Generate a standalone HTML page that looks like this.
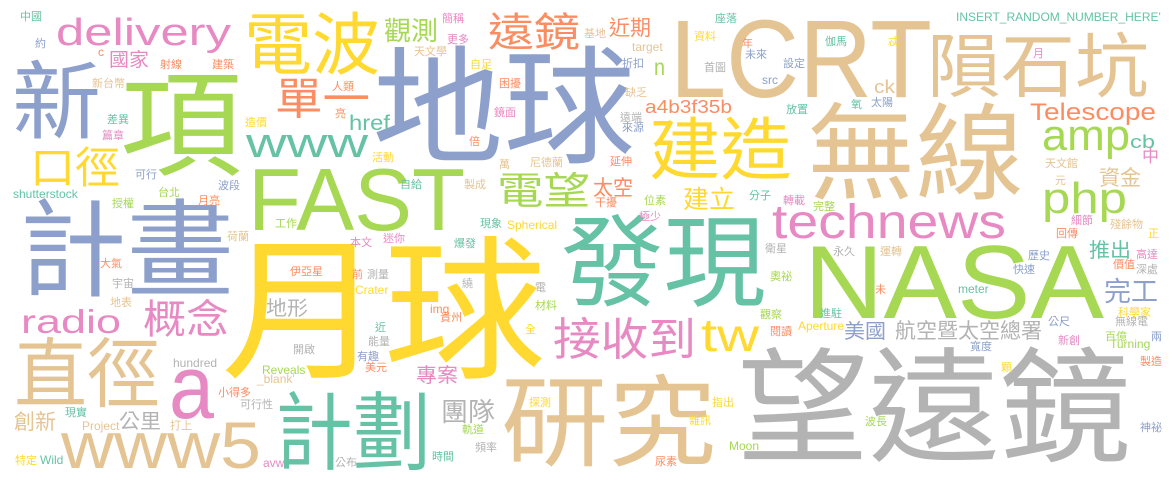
<!DOCTYPE html>
<html><head><meta charset="utf-8">
<style>
html,body{margin:0;padding:0;background:#fff;}
svg{display:block;}
text{font-family:"Liberation Sans","Noto Sans CJK TC",sans-serif;}
.c{font-family:"Noto Sans CJK TC","Noto Sans CJK SC",sans-serif;}
</style></head>
<body>
<svg id="cloud" width="1175" height="482" viewBox="0 0 1175 482" xmlns="http://www.w3.org/2000/svg" lengthAdjust="spacingAndGlyphs">
<rect width="1175" height="482" fill="#fff"/>
<g id="big"></g>
<g id="small"></g>
</svg>
<script>
var COL={t:"#66c2a5",o:"#fc8d62",b:"#8da0cb",p:"#e78ac3",g:"#a6d854",y:"#ffd92f",n:"#e5c494",r:"#b3b3b3"};
// word, x, baseline, font-size, textLength, color, cjk
var bigWords=[
["新",12,132,85,89,"b",1],
["項",120,166,115,122,"g",1],
["電波",244,69,68,136,"y",1],
["國家",109,66,19,40,"p",1],
["單一",275,114,44,95,"o",1],
["口徑",30,183,43,90,"y",1],
["計畫",19,288,106,215,"b",1],
["地球",372,153,128,263,"b",1],
["遠鏡",488,46,40,92,"o",1],
["觀測",384,40,26,54,"g",1],
["近期",609,35,21,42,"o",1],
["建造",649,174,68,143,"y",1],
["電望",497,204,38,93,"g",1],
["太空",593,195,21,40,"o",1],
["建立",683,208,25,52,"y",1],
["發現",561,298,100,205,"t",1],
["隕石坑",927,91,70,222,"n",1],
["無線",807,191,105,217,"n",1],
["資金",1099,185,21,42,"n",1],
["中",1142,162,17,17,"p",1],
["概念",143,333,40,86,"p",1],
["直徑",14,401,76,146,"n",1],
["地形",266,315,20,42,"r",1],
["創新",14,429,21,42,"n",1],
["公里",119,428,20,42,"r",1],
["計劃",275,463,85,156,"t",1],
["月球",221,366,155,325,"y",1],
["接收到",553,355,45,143,"p",1],
["研究",501,458,100,215,"n",1],
["專案",416,382,20,42,"p",1],
["團隊",441,421,26,54,"r",1],
["望遠鏡",737,452,125,394,"r",1],
["推出",1089,257,20,42,"t",1],
["完工",1104,301,27,54,"b",1],
["美國",844,338,20,42,"b",1],
["航空暨太空總署",895,338,21,147,"r",1],
["FAST",248,230,88,217,"g",0],
["LCRT",670,97,110,262,"n",0],
["delivery",56,45,38,175,"p",0],
["www",246,157,42,122,"t",0],
["href",349,130,21,41,"t",0],
["a4b3f35b",645,113,18,87,"o",0],
["n",654,75,23,11,"g",0],
["ck",874,93,18,21,"n",0],
["technews",772,238,48,234,"p",0],
["Telescope",1030,120,24,126,"o",0],
["amp",1042,150,44,88,"g",0],
["cb",1130,148,18,25,"t",0],
["php",1042,213,44,85,"g",0],
["radio",21,333,33,100,"p",0],
["a",169,418,90,45,"p",0],
["www5",61,468,66,200,"n",0],
["tw",701,351,46,58,"y",0],
["NASA",804,318,104,300,"g",0]
];
// small words: word, x, baseline, color
var smallWords=[
["中國",20,20,"t"],["約",35,47,"b"],["c",98,56,"o"],["射線",160,68,"o"],["建築",212,68,"o"],["新台幣",92,87,"n"],
["人類",332,90,"o"],["差異",107,123,"t"],["亮",335,117,"o"],["造價",245,126,"y"],["篇章",102,139,"p"],["活動",372,161,"y"],
["可行",135,178,"b"],["波段",218,189,"b"],["台北",158,196,"g"],["月亮",198,204,"o"],["授權",112,207,"g"],["工作",275,227,"g"],
["荷蘭",227,240,"n"],["簡稱",442,22,"p"],["更多",447,43,"p"],["天文學",414,55,"n"],["自足",470,68,"y"],["困擾",499,87,"o"],
["鏡面",494,116,"p"],["倍",469,145,"o"],["萬",499,168,"n"],["尼德蘭",530,166,"n"],["自給",400,188,"t"],["製成",464,188,"n"],
["現象",480,227,"t"],["基地",584,37,"n"],["target",632,51,"n"],["折扣",622,67,"b"],["缺乏",625,96,"n"],["遠端",620,121,"r"],
["來源",622,131,"b"],["延伸",610,165,"o"],["干擾",595,206,"o"],["位素",644,204,"g"],["極少",639,220,"p"],["座落",715,22,"t"],
["資料",694,40,"y"],["年",742,47,"o"],["未來",745,58,"b"],["首圖",704,71,"r"],["src",762,84,"b"],["分子",749,199,"t"],
["伽馬",825,45,"t"],["忒",888,45,"y"],["月",1033,57,"p"],["設定",783,67,"b"],["放置",786,113,"t"],["氧",851,108,"t"],
["太陽",871,106,"b"],["轉載",783,204,"p"],["完整",813,210,"g"],["天文館",1045,167,"n"],["元",1055,184,"n"],["細節",1071,224,"p"],
["殘餘物",1110,228,"n"],["回傳",1056,237,"o"],["正",1148,237,"y"],["INSERT_RANDOM_NUMBER_HERE'",956,21,"t"],["shutterstock",13,198,"t"],
["Spherical",507,229,"y"],["大氣",100,267,"o"],["宇宙",112,287,"r"],["地表",110,306,"n"],["伊亞星",290,275,"o"],["測量",367,278,"r"],
["前",352,278,"o"],["Crater",355,294,"y"],["近",375,331,"t"],["能量",368,345,"r"],["開啟",293,353,"r"],["有趣",357,360,"b"],
["美元",365,371,"o"],["hundred",173,367,"r"],["Reveals",262,374,"g"],["_blank'",257,383,"n"],["小得多",218,396,"o"],["可行性",240,408,"r"],
["現實",65,416,"t"],["Project",82,430,"n"],["打上",170,429,"n"],["特定",15,464,"y"],["Wild",40,464,"t"],["avw",263,467,"p"],
["公布",335,466,"r"],["本文",350,246,"p"],["迷你",383,242,"p"],["爆發",454,247,"t"],["繞",462,287,"r"],["電",535,291,"r"],
["材料",535,309,"g"],["img",430,313,"o"],["貴州",440,321,"o"],["全",525,333,"y"],["探測",529,406,"y"],["軌道",462,433,"g"],
["頻率",475,451,"r"],["時間",432,460,"t"],["指出",712,406,"y"],["雜訊",689,424,"y"],["Moon",729,450,"g"],["尿素",655,465,"o"],
["衛星",765,252,"r"],["奧祕",770,280,"g"],["觀察",760,318,"g"],["閱讀",770,335,"o"],["永久",833,255,"r"],["運轉",880,255,"n"],
["歷史",1028,259,"b"],["高達",1136,258,"p"],["價值",1113,268,"o"],["深處",1136,273,"r"],["快速",1013,273,"b"],["未",875,293,"o"],
["meter",958,293,"t"],["進駐",820,317,"t"],["科學家",1118,316,"y"],["公尺",1048,325,"b"],["無線電",1115,325,"r"],["Aperture",798,330,"y"],
["百億",1105,340,"g"],["兩",1151,340,"b"],["新創",1058,344,"p"],["Turning",1110,348,"g"],["寬度",970,350,"b"],["顆",1001,371,"y"],
["製造",1140,365,"o"],["波長",865,425,"g"],["神祕",1140,431,"b"]
];
var NS="http://www.w3.org/2000/svg";
var gb=document.getElementById("big");
bigWords.forEach(function(w){
  var t=document.createElementNS(NS,"text");
  t.setAttribute("x",w[1]);t.setAttribute("y",w[2]);
  t.setAttribute("font-size",w[3]);
  t.setAttribute("textLength",w[4]);
  t.setAttribute("lengthAdjust","spacingAndGlyphs");
  t.setAttribute("fill",COL[w[5]]);
  if(w[6])t.setAttribute("class","c");
  t.textContent=w[0];
  
  
  gb.appendChild(t);
});
var gs=document.getElementById("small");
smallWords.forEach(function(w){
  var t=document.createElementNS(NS,"text");
  var cjk=/[\u3000-\u9fff]/.test(w[0]);
  t.setAttribute("x",w[1]);t.setAttribute("y",w[2]);
  t.setAttribute("font-size",cjk?11:12);
  t.setAttribute("fill",COL[w[3]]);
  if(cjk){t.setAttribute("class","c");}
  t.textContent=w[0];
  
  
  gs.appendChild(t);
});
</script>
</body></html>
